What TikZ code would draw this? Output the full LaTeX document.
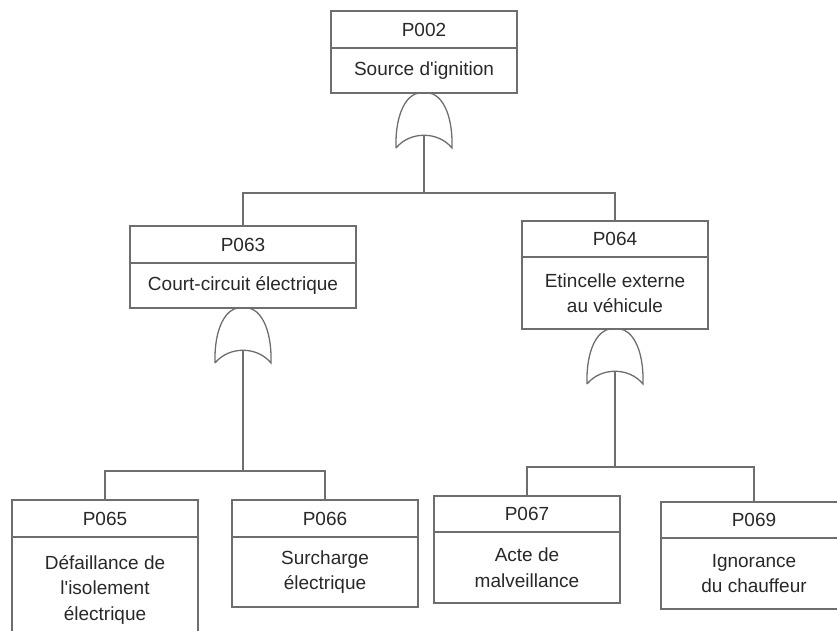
\documentclass[tikz,border=0pt]{standalone}
\usepackage{fontspec}
\setmainfont{Liberation Sans}
\usetikzlibrary{positioning}
\definecolor{linegray}{RGB}{110,110,110}
\definecolor{textgray}{RGB}{40,40,40}
\tikzset{
 idbox/.style={draw=linegray, line width=1.3pt, outer sep=0pt, inner sep=0pt, minimum width=186pt, minimum height=37pt, text=textgray, font=\fontsize{19}{25.5}\selectfont, align=center},
 descbox/.style={idbox, minimum height=#1},
 gateline/.style={draw=linegray, line width=1.3pt},
 link/.style={draw=linegray, line width=1.3pt}
}
\newcommand{\orgate}[2]{
 \begin{scope}[shift={(#1)}]
 \draw[gateline] (-28,55) .. controls (-29,18) and (-16,1) .. (-5,0) -- (5,0) .. controls (16,1) and (29,18) .. (28,55) .. controls (14,38) and (-14,38) .. (-28,55);
 \coordinate (#2) at (0,42);
 \end{scope}
}

\begin{document}
\begin{tikzpicture}[x=1pt, y=-1pt]
 		\clip (0,0) rectangle (837,631);
 		\node[idbox] (p002) at (424,29.5) {P002};
 		\node[descbox=45pt, below=0pt of p002] (d002) {Source d\textquotesingle ignition};
 		\node[idbox, minimum width=226pt] (p063) at (243,244.5) {P063};
 		\node[descbox=45pt, minimum width=226pt, below=0pt of p063] (d063) {Court-circuit électrique};
 		\node[idbox, minimum height=36pt] (p064) at (615,239) {P064};
 		\node[descbox=72pt, below=0pt of p064] (d064) {Etincelle externe\\au véhicule};
 		\node[idbox] (p065) at (105,518.5) {P065};
 		\node[descbox=105pt, below=0pt of p065] (d065) {Défaillance de\\l\textquotesingle isolement\\électrique};
 		\node[idbox] (p066) at (325,518.5) {P066};
 		\node[descbox=70pt, below=0pt of p066] (d066) {Surcharge\\électrique};
 		\node[idbox, minimum height=36pt] (p067) at (527,514) {P067};
 		\node[descbox=71pt, below=0pt of p067] (d067) {Acte de\\malveillance};
 		\node[idbox, minimum height=36pt] (p069) at (754,520) {P069};
 		\node[descbox=71pt, below=0pt of p069] (d069) {Ignorance\\du chauffeur};
 		\orgate{d002.south}{g002}
 		\orgate{d063.south}{g063}
 		\orgate{d064.south}{g064}
 		\coordinate (bar002) at (424,193);
 		\coordinate (bar063) at (243,471);
 		\coordinate (bar064) at (615,467);
 		\draw[link] (g002) -- (bar002) -| (p063.north);
 		\draw[link] (bar002) -| (p064.north);
 		\draw[link] (g063) -- (bar063) -| (p065.north);
 		\draw[link] (bar063) -| (p066.north);
 		\draw[link] (g064) -- (bar064) -| (p067.north);
 		\draw[link] (bar064) -| (p069.north);
 		\end{tikzpicture}
\end{document}
